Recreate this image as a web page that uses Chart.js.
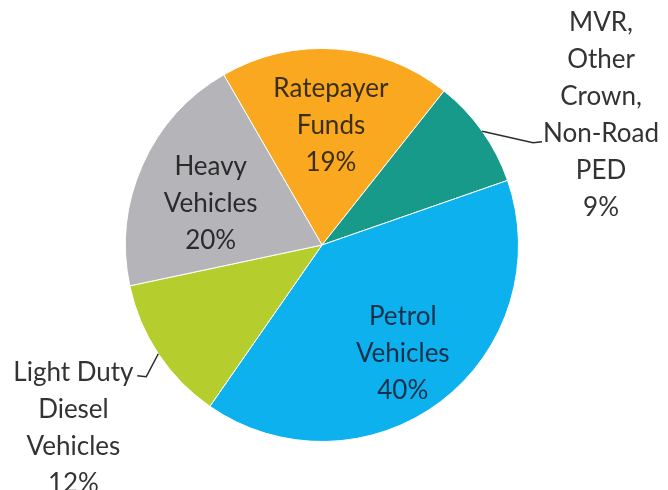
<!DOCTYPE html>
<html>
<head>
<meta charset="utf-8">
<title>Revenue sources</title>
<script src="https://cdn.jsdelivr.net/npm/chart.js@4.4.1/dist/chart.umd.min.js"></script>
<style>
    html, body { margin: 0; padding: 0; background: #ffffff; }
    #wrap { width: 668px; height: 490px; }
</style>
</head>
<body>
<div id="wrap"><canvas id="revenue-chart" width="668" height="490"></canvas></div>
<script>
// Revenue share by source (%), clockwise from the top
const categories = [
    ['Ratepayer', 'Funds'],
    ['MVR,', 'Other', 'Crown,', 'Non-Road', 'PED'],
    ['Petrol', 'Vehicles'],
    ['Light Duty', 'Diesel', 'Vehicles'],
    ['Heavy', 'Vehicles']
];
const shares = [19, 9, 40, 12, 20];
const sliceColors = ['#f9a81f', '#179a8a', '#0cb1ee', '#b5cd2d', '#b5b5b9'];

// Where each label sits. inside: distance from centre as a fraction of the radius.
// outside: text block and leader end given in radius units from the centre.
const labelStyle = [
    { inside: 0.62, dy: 2, color: '#3a2f14' },
    { outside: true, textX: 1.42, textY: -1.13, leadX: 1.12, leadY: -0.52, color: '#333333' },
    { inside: 0.68, dy: 2, color: '#15304a' },
    { outside: true, textX: -1.265, textY: 0.65, leadX: -0.94, leadY: 0.67, color: '#333333' },
    { inside: 0.62, dy: 8, color: '#2b2b2b' }
];

const FONT = '26px Lato, "Open Sans", sans-serif';
const LINE_H = 37;

const sliceLabels = {
    id: 'sliceLabels',
    afterDatasetsDraw(chart) {
        const ctx = chart.ctx;
        const arcs = chart.getDatasetMeta(0).data;
        ctx.save();
        ctx.font = FONT;
        ctx.textBaseline = 'middle';
        ctx.textAlign = 'center';
        arcs.forEach((arc, i) => {
            const p = arc.getProps(['x', 'y', 'startAngle', 'endAngle', 'outerRadius'], true);
            const mid = (p.startAngle + p.endAngle) / 2;
            const R = p.outerRadius;
            const st = labelStyle[i];
            const lines = [...categories[i], shares[i] + '%'];
            ctx.fillStyle = st.color;

            if (st.outside) {
                // leader line from the rim out to the text, with a short hook at the end
                const sx = p.x + Math.cos(mid) * R;
                const sy = p.y + Math.sin(mid) * R;
                const ex = p.x + st.leadX * R;
                const ey = p.y + st.leadY * R;
                const dir = ex > sx ? 1 : -1;
                ctx.beginPath();
                ctx.strokeStyle = '#2d2d2d';
                ctx.lineWidth = 1.5;
                ctx.moveTo(sx, sy);
                ctx.lineTo(ex - dir * 9, ey);
                ctx.lineTo(ex, ey - 1);
                ctx.stroke();

                const tx = p.x + st.textX * R;
                const ty = p.y + st.textY * R;
                lines.forEach((t, k) => ctx.fillText(t, tx, ty + k * LINE_H));
            } else {
                const cx = p.x + Math.cos(mid) * R * st.inside;
                const cy = p.y + Math.sin(mid) * R * st.inside + st.dy;
                const top = cy - (lines.length - 1) * LINE_H / 2;
                lines.forEach((t, k) => ctx.fillText(t, cx, top + k * LINE_H));
            }
        });
        ctx.restore();
    }
};

new Chart(document.getElementById('revenue-chart'), {
    type: 'pie',
    data: {
        labels: categories.map(c => c.join(' ')),
        datasets: [{
            data: shares,
            backgroundColor: sliceColors,
            borderColor: '#ffffff',
            borderWidth: 1
        }]
    },
    options: {
        responsive: false,
        animation: false,
        rotation: -30,
        layout: { padding: { left: 125, right: 149, top: 48, bottom: 48 } },
        plugins: {
            legend: { display: false },
            tooltip: { enabled: false }
        }
    },
    plugins: [sliceLabels]
});
</script>
</body>
</html>
